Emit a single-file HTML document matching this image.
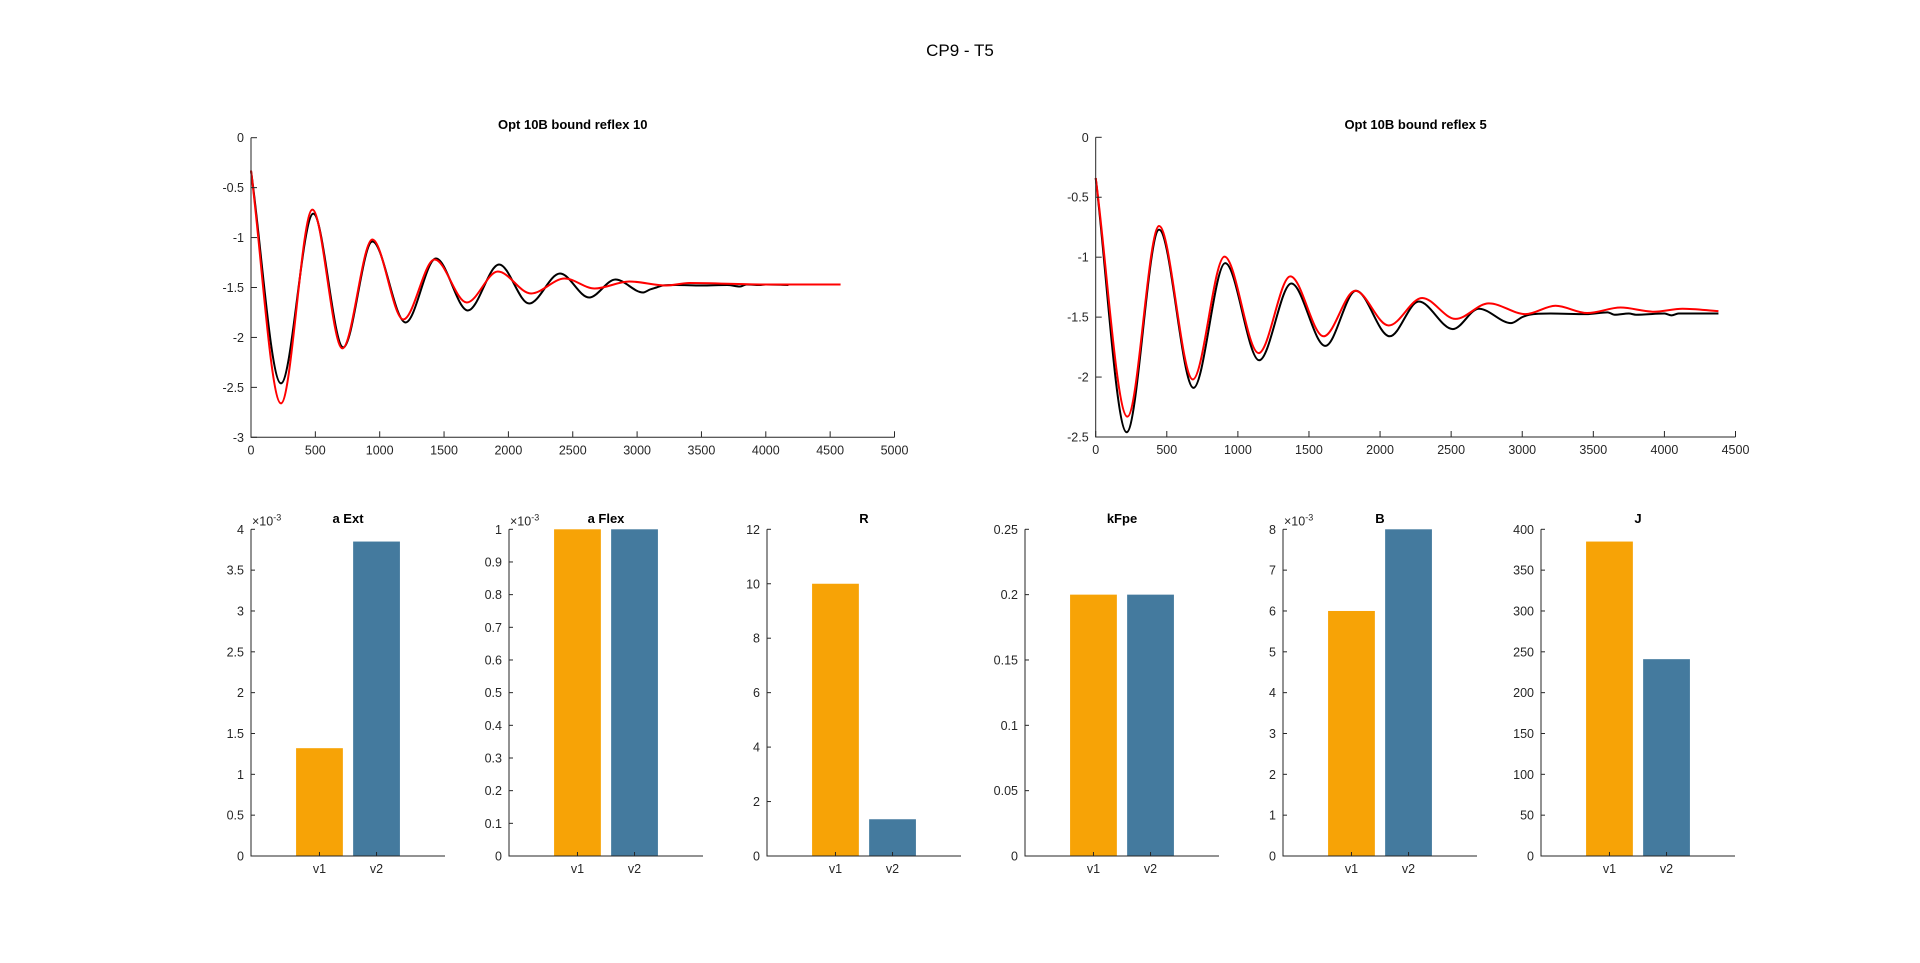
<!DOCTYPE html>
<html><head><meta charset="utf-8"><title>CP9 - T5</title>
<style>
html,body{margin:0;padding:0;background:#fff;}
svg{display:block;font-family:"Liberation Sans",Arial,sans-serif;}
.tick{font-size:12.5px;fill:#262626;}
.ttl{font-size:13px;font-weight:bold;fill:#000;}
</style></head>
<body>
<svg id="fig" width="1920" height="963" viewBox="0 0 1920 963">
<rect width="1920" height="963" fill="#fff"/>
<text x="960" y="56" text-anchor="middle" font-size="17" fill="#000">CP9 - T5</text>
</svg>
<script>
// ---- Line chart data (keypoints) ----
const leftBlackX = [0,233,484,717,943,1201,1437,1685,1928,2161,2401,2627,2832,3047,3100,3150,3200,3300,3500,3700,3800,3850,3950,4000,4176];
const leftBlackY = [-0.33,-2.46,-0.76,-2.10,-1.04,-1.85,-1.21,-1.73,-1.27,-1.66,-1.36,-1.60,-1.42,-1.55,-1.52,-1.50,-1.48,-1.475,-1.48,-1.475,-1.49,-1.47,-1.475,-1.47,-1.475];
const leftRedX = [0,233,477,710,943,1183,1427,1677,1918,2176,2437,2670,2939,3226,3405,4000,4581];
const leftRedY = [-0.33,-2.66,-0.72,-2.11,-1.02,-1.82,-1.22,-1.65,-1.34,-1.56,-1.41,-1.51,-1.44,-1.48,-1.455,-1.47,-1.47];
const rightBlackX = [0,218,446,688,911,1150,1376,1615,1831,2068,2272,2512,2695,2922,3000,3050,3200,3450,3600,3650,3750,3800,4000,4050,4100,4380];
const rightBlackY = [-0.34,-2.46,-0.77,-2.09,-1.05,-1.86,-1.22,-1.74,-1.28,-1.66,-1.37,-1.60,-1.43,-1.55,-1.50,-1.48,-1.47,-1.475,-1.46,-1.48,-1.47,-1.48,-1.47,-1.485,-1.47,-1.47];
const rightRedX = [0,223,446,683,906,1146,1369,1603,1826,2061,2296,2531,2765,3023,3234,3457,3692,3925,4127,4380];
const rightRedY = [-0.34,-2.33,-0.74,-2.02,-0.995,-1.80,-1.16,-1.66,-1.28,-1.57,-1.34,-1.515,-1.385,-1.475,-1.405,-1.466,-1.42,-1.455,-1.43,-1.45];
const leftXTicks = [0,500,1000,1500,2000,2500,3000,3500,4000,4500,5000];
const leftYTicks = [0,-0.5,-1,-1.5,-2,-2.5,-3];
const rightXTicks = [0,500,1000,1500,2000,2500,3000,3500,4000,4500];
const rightYTicks = [0,-0.5,-1,-1.5,-2,-2.5];

// ---- Bar chart data ----
const barCategories = ["v1","v2"];
const barTitles = ["a Ext","a Flex","R","kFpe","B","J"];
const aExtValues = [1.32,3.85];
const aFlexValues = [1,1];
const rValues = [10,1.35];
const kFpeValues = [0.2,0.2];
const bValues = [6,8];
const jValues = [385,241];
const aExtTicks = [0,0.5,1,1.5,2,2.5,3,3.5,4];
const aFlexTicks = [0,0.1,0.2,0.3,0.4,0.5,0.6,0.7,0.8,0.9,1];
const rTicks = [0,2,4,6,8,10,12];
const kFpeTicks = [0,0.05,0.1,0.15,0.2,0.25];
const bTicks = [0,1,2,3,4,5,6,7,8];
const jTicks = [0,50,100,150,200,250,300,350,400];

const NS="http://www.w3.org/2000/svg";
const fig=document.getElementById('fig');
function mk(tag,attrs,parent){const e=document.createElementNS(NS,tag);for(const k in attrs)e.setAttribute(k,attrs[k]);(parent||fig).appendChild(e);return e;}
function fmt(v){return String(v);}

function monoPath(xs,ys,sx,sy){
  const n=xs.length;const d=[],m=new Array(n).fill(0);
  for(let i=0;i<n-1;i++)d.push((ys[i+1]-ys[i])/(xs[i+1]-xs[i]));
  m[0]=d[0];m[n-1]=d[n-2];
  for(let i=1;i<n-1;i++){m[i]=(d[i-1]*d[i]<=0)?0:(d[i-1]+d[i])/2;}
  for(let i=0;i<n-1;i++){if(d[i]===0){m[i]=0;m[i+1]=0;continue;}const a=m[i]/d[i],b=m[i+1]/d[i],s=a*a+b*b;if(s>9){const t=3/Math.sqrt(s);m[i]=t*a*d[i];m[i+1]=t*b*d[i];}}
  let p='M'+sx(xs[0]).toFixed(2)+','+sy(ys[0]).toFixed(2);
  for(let i=0;i<n-1;i++){const h=xs[i+1]-xs[i];
    p+=' C'+sx(xs[i]+h/3).toFixed(2)+','+sy(ys[i]+m[i]*h/3).toFixed(2)+' '+sx(xs[i+1]-h/3).toFixed(2)+','+sy(ys[i+1]-m[i+1]*h/3).toFixed(2)+' '+sx(xs[i+1]).toFixed(2)+','+sy(ys[i+1]).toFixed(2);}
  return p;
}

function linePlot(name,L,R,T,B,xmax,ymin,xt,yt,title,series){
  const g=mk('g',{});
  
  
  const sx=v=>L+(v/xmax)*(R-L), sy=v=>T+(v/ymin)*(B-T);
  for(const s of series){
    const p=mk('path',{d:monoPath(s.x,s.y,sx,sy),fill:'none',stroke:s.c,'stroke-width':2,'stroke-linejoin':'round'},g);
    
    
  }
  const ax=mk('path',{d:`M${L},${T} L${L},${B} L${R},${B}`,fill:'none',stroke:'#262626','stroke-width':1},g);
  
  
  for(const v of xt){const x=sx(v);mk('line',{x1:x,y1:B,x2:x,y2:B-6,stroke:'#262626'},g);
    const t=mk('text',{x:x,y:B+17,'text-anchor':'middle',class:'tick'},g);t.textContent=fmt(v);
    
    }
  for(const v of yt){const y=sy(v);mk('line',{x1:L,y1:y,x2:L+6,y2:y,stroke:'#262626'},g);
    const t=mk('text',{x:L-7,y:y+4.5,'text-anchor':'end',class:'tick'},g);t.textContent=fmt(v);
    
    }
  const tt=mk('text',{x:(L+R)/2,y:129,'text-anchor':'middle',class:'ttl'},g);tt.textContent=title;
  
  
}

linePlot('left-line-chart',251,894.5,137.7,437.3,5000,-3,leftXTicks,leftYTicks,'Opt 10B bound reflex 10',
  [{x:leftBlackX,y:leftBlackY,c:'#000',n:'measured-line'},{x:leftRedX,y:leftRedY,c:'#ff0000',n:'model-line'}]);
linePlot('right-line-chart',1095.7,1735.5,137.3,437,4500,-2.5,rightXTicks,rightYTicks,'Opt 10B bound reflex 5',
  [{x:rightBlackX,y:rightBlackY,c:'#000',n:'measured-line'},{x:rightRedX,y:rightRedY,c:'#ff0000',n:'model-line'}]);

const barSets=[[aExtValues,aExtTicks,true],[aFlexValues,aFlexTicks,true],[rValues,rTicks,false],[kFpeValues,kFpeTicks,false],[bValues,bTicks,true],[jValues,jTicks,false]];
const barColors=['#f7a306','#447a9e'];
barSets.forEach((bs,i)=>{
  const vals=bs[0],ticks=bs[1],exp=bs[2];
  const L=251+i*258,W=194,R=L+W,T=529.3,B=856;
  const ymax=ticks[ticks.length-1];
  const sy=v=>B-(v/ymax)*(B-T);
  const sx=c=>L+(c+0.2)*(W/3.4);
  const g=mk('g',{});
  
  
  vals.forEach((v,k)=>{
    const cx=sx(k+1),bw=0.82*(W/3.4);
    const r=mk('rect',{x:cx-bw/2,y:sy(v),width:bw,height:B-sy(v),fill:barColors[k]},g);
    
    
    mk('line',{x1:cx,y1:B,x2:cx,y2:B-4,stroke:'#262626'},g);
    const t=mk('text',{x:cx,y:B+17,'text-anchor':'middle',class:'tick'},g);t.textContent=barCategories[k];
    
    
  });
  const ax=mk('path',{d:`M${L},${T} L${L},${B} L${R},${B}`,fill:'none',stroke:'#262626','stroke-width':1},g);
  
  
  ticks.forEach(v=>{const y=sy(v);mk('line',{x1:L,y1:y,x2:L+4,y2:y,stroke:'#262626'},g);
    const t=mk('text',{x:L-7,y:y+4.5,'text-anchor':'end',class:'tick'},g);t.textContent=fmt(v);
    
    });
  if(exp){const t=mk('text',{x:L+1,y:T-4,class:'tick','font-size':'12'},g);
    t.innerHTML='×10<tspan dy="-5" font-size="9">-3</tspan>';
    
    }
  const tt=mk('text',{x:L+W/2,y:523,'text-anchor':'middle',class:'ttl'},g);tt.textContent=barTitles[i];
  
  
});
</script>
</body></html>
